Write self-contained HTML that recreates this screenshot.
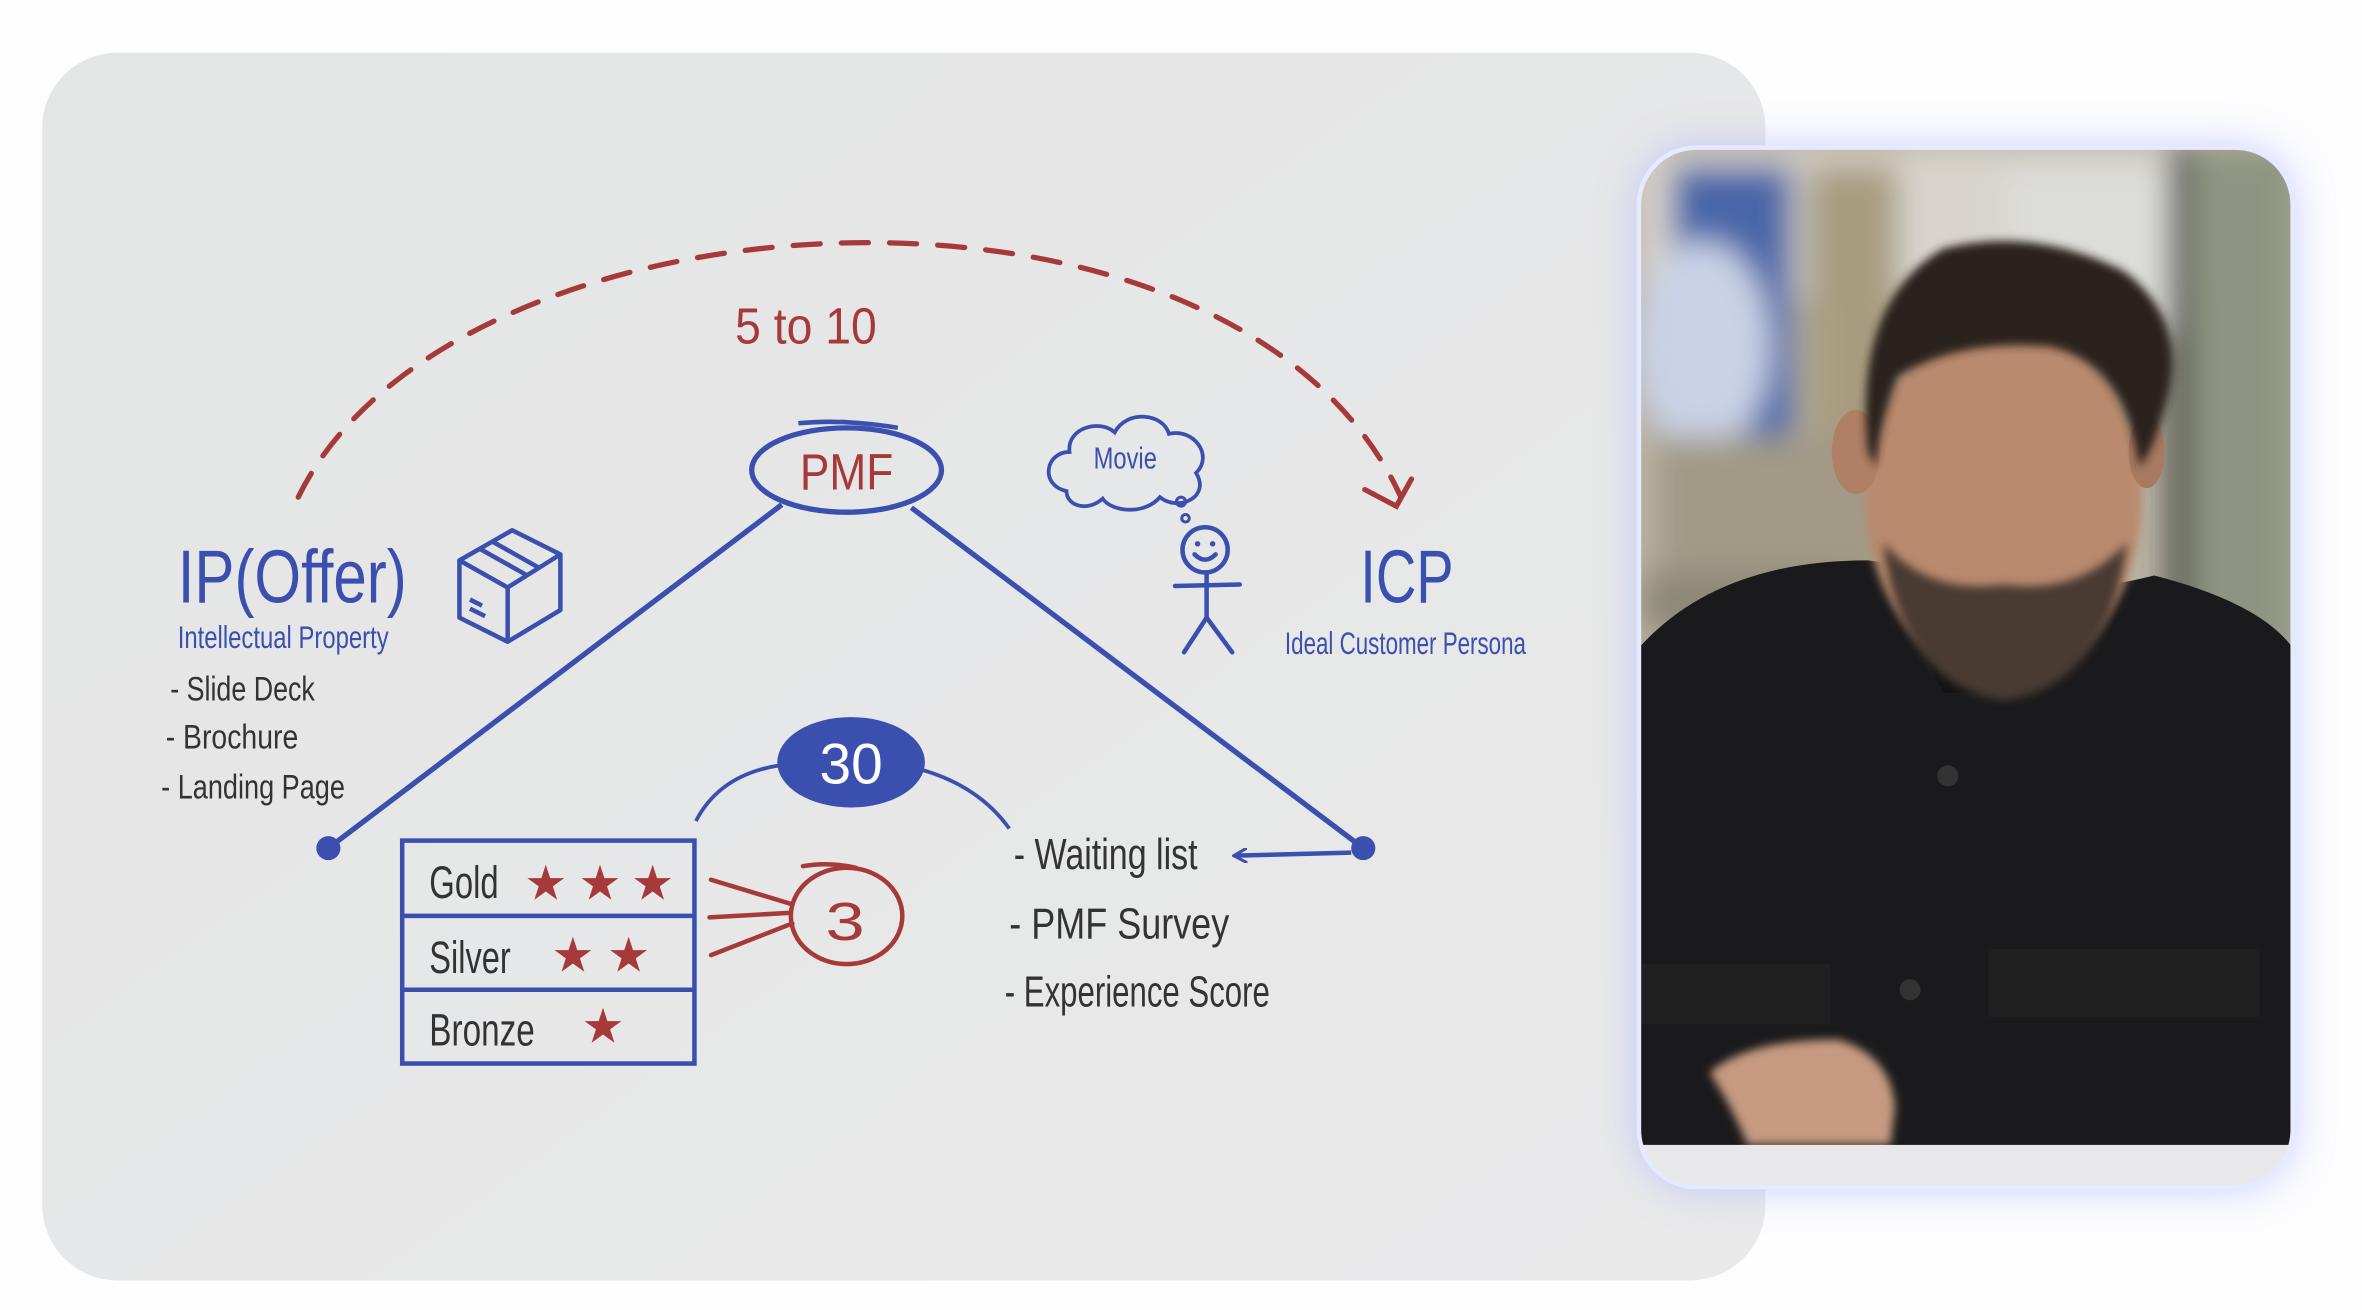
<!DOCTYPE html>
<html><head><meta charset="utf-8">
<style>
html,body{margin:0;padding:0;background:#fff;}
svg{display:block;}
text{font-family:"Liberation Sans Narrow","Liberation Sans",sans-serif;}
</style></head>
<body>
<svg width="2362" height="1310" viewBox="0 0 1568 869.6" preserveAspectRatio="none" xmlns="http://www.w3.org/2000/svg">
<defs>
  <linearGradient id="bd" x1="0" y1="0" x2="1" y2="1">
    <stop offset="0" stop-color="#e4e5e5"/><stop offset="1" stop-color="#e9e9ea"/>
  </linearGradient>
  <filter id="glow" x="-20%" y="-20%" width="140%" height="140%"><feGaussianBlur stdDeviation="14"/></filter>
  <filter id="bl" x="-20%" y="-20%" width="140%" height="140%"><feGaussianBlur stdDeviation="10"/></filter>
  <filter id="bl2"><feGaussianBlur stdDeviation="3"/></filter>
  <clipPath id="ph"><rect x="1088" y="98" width="434" height="690" rx="38"/></clipPath>
  <marker id="ar" markerWidth="10" markerHeight="10" refX="8" refY="5" orient="auto" markerUnits="userSpaceOnUse">
    <path d="M0,0 L9,5 L0,10" fill="none" stroke="#3a4fae" stroke-width="2"/>
  </marker>
</defs>
<rect width="1568" height="869.6" fill="#fdfdfe"/>
<!-- whiteboard -->
<rect x="28" y="35" width="1144" height="815" rx="50" fill="url(#bd)"/>

<!-- dashed arc -->
<path d="M198,330 C300,120 820,90 930,330" fill="none" stroke="#a63a3a" stroke-width="3.5" stroke-dasharray="18,14" stroke-linecap="round"/>
<path d="M906,325 L927,336 L937,318" fill="none" stroke="#a63a3a" stroke-width="3.5" stroke-linecap="round"/>
<text x="488" y="228" font-size="34" fill="#a63a3a" textLength="94" lengthAdjust="spacingAndGlyphs">5 to 10</text>

<!-- PMF -->
<ellipse cx="562" cy="312" rx="63" ry="28" fill="none" stroke="#3a4fae" stroke-width="3.5"/>
<path d="M530,281 Q560,278 596,284" fill="none" stroke="#3a4fae" stroke-width="3"/>
<text x="531" y="325" font-size="34" fill="#a63a3a" textLength="62" lengthAdjust="spacingAndGlyphs">PMF</text>
<line x1="519" y1="335" x2="218" y2="563" stroke="#3a4fae" stroke-width="3.5"/>
<line x1="605" y1="337" x2="905" y2="563" stroke="#3a4fae" stroke-width="3.5"/>
<circle cx="218" cy="563" r="8" fill="#3a4fae"/>
<circle cx="905" cy="563" r="8" fill="#3a4fae"/>
<line x1="897" y1="566" x2="820" y2="568" stroke="#3a4fae" stroke-width="3" marker-end="url(#ar)"/>

<!-- IP -->
<text x="118" y="400" font-size="50" fill="#3a4fae" textLength="152" lengthAdjust="spacingAndGlyphs">IP(Offer)</text>
<text x="118" y="430" font-size="21" fill="#3a4fae" textLength="140" lengthAdjust="spacingAndGlyphs">Intellectual Property</text>
<text x="113" y="465" font-size="23" fill="#333" textLength="96" lengthAdjust="spacingAndGlyphs">- Slide Deck</text>
<text x="110" y="497" font-size="23" fill="#333" textLength="88" lengthAdjust="spacingAndGlyphs">- Brochure</text>
<text x="107" y="530" font-size="23" fill="#333" textLength="122" lengthAdjust="spacingAndGlyphs">- Landing Page</text>
<!-- box icon -->
<g fill="none" stroke="#3a4fae" stroke-width="3" stroke-linejoin="round">
  <path d="M305,372 L340,352 L372,368 L337,390 Z"/>
  <path d="M305,372 L305,410 L337,426 L337,390"/>
  <path d="M372,368 L372,405 L337,426"/>
  <path d="M318,364 L350,382 M326,359 L358,377"/>
  <path d="M312,398 L320,402 M312,404 L322,409"/>
</g>

<!-- cloud & figure -->
<path d="M708,326 C690,322 694,300 710,300 C708,284 730,278 740,287 C748,272 772,274 776,288 C792,284 806,302 794,314 C804,330 782,340 770,330 C760,342 738,340 732,331 C722,340 708,336 708,326 Z" fill="none" stroke="#3a4fae" stroke-width="2.5"/>
<text x="726" y="311" font-size="20" fill="#3a4fae" textLength="42" lengthAdjust="spacingAndGlyphs">Movie</text>
<circle cx="784" cy="333" r="3" fill="none" stroke="#3a4fae" stroke-width="2"/>
<circle cx="787" cy="344" r="2.5" fill="none" stroke="#3a4fae" stroke-width="2"/>
<g fill="none" stroke="#3a4fae" stroke-width="3" stroke-linecap="round">
  <circle cx="800" cy="365" r="15"/>
  <path d="M793,368 Q800,375 807,368"/>
  <line x1="801" y1="380" x2="801" y2="410"/>
  <line x1="780" y1="389" x2="823" y2="388"/>
  <path d="M786,433 L801,410 L818,433"/>
</g>
<circle cx="795" cy="361" r="1.8" fill="#3a4fae"/><circle cx="805" cy="361" r="1.8" fill="#3a4fae"/>
<text x="903" y="400" font-size="50" fill="#3a4fae" textLength="62" lengthAdjust="spacingAndGlyphs">ICP</text>
<text x="853" y="434" font-size="21" fill="#3a4fae" textLength="160" lengthAdjust="spacingAndGlyphs">Ideal Customer Persona</text>

<!-- 30 -->
<path d="M462,545 Q478,514 518,508" fill="none" stroke="#3a4fae" stroke-width="2.5"/>
<path d="M612,511 Q650,522 670,550" fill="none" stroke="#3a4fae" stroke-width="2.5"/>
<ellipse cx="565" cy="506" rx="49" ry="30" fill="#3a4fae"/>
<text x="544" y="520" font-size="38" fill="#fff" textLength="42" lengthAdjust="spacingAndGlyphs">30</text>

<!-- table -->
<g fill="none" stroke="#3a4fae" stroke-width="3">
  <rect x="267" y="558" width="194" height="148"/>
  <line x1="267" y1="608" x2="461" y2="608"/>
  <line x1="267" y1="657" x2="461" y2="657"/>
</g>
<text x="285" y="596" font-size="30" fill="#333" textLength="46" lengthAdjust="spacingAndGlyphs">Gold</text>
<text x="285" y="646" font-size="30" fill="#333" textLength="54" lengthAdjust="spacingAndGlyphs">Silver</text>
<text x="285" y="694" font-size="30" fill="#333" textLength="70" lengthAdjust="spacingAndGlyphs">Bronze</text>
<g fill="#a63a3a" font-size="32">
  <text x="348" y="597">★</text><text x="384" y="597">★</text><text x="419" y="597">★</text>
  <text x="366" y="645">★</text><text x="403" y="645">★</text>
  <text x="386" y="692">★</text>
</g>
<!-- 3 -->
<g fill="none" stroke="#a63a3a" stroke-width="3" stroke-linecap="round">
  <line x1="472" y1="584" x2="525" y2="600"/>
  <line x1="471" y1="609" x2="524" y2="606"/>
  <line x1="472" y1="634" x2="526" y2="613"/>
  <ellipse cx="562" cy="608" rx="37" ry="32"/>
  <path d="M533,575 Q550,572 568,576"/>
</g>
<text x="548" y="624" font-size="36" fill="#a63a3a" textLength="26" lengthAdjust="spacingAndGlyphs">3</text>

<!-- right list -->
<text x="673" y="577" font-size="29" fill="#333" textLength="122" lengthAdjust="spacingAndGlyphs">- Waiting list</text>
<text x="670" y="623" font-size="29" fill="#333" textLength="146" lengthAdjust="spacingAndGlyphs">- PMF Survey</text>
<text x="667" y="668" font-size="29" fill="#333" textLength="176" lengthAdjust="spacingAndGlyphs">- Experience Score</text>

<!-- video panel -->
<rect x="1088" y="98" width="434" height="690" rx="38" fill="#aab6ff" opacity="0.7" filter="url(#glow)"/>
<g clip-path="url(#ph)">
  <rect x="1088" y="98" width="434" height="690" fill="#b9b3a4"/>
  <g filter="url(#bl)">
    <rect x="1088" y="98" width="434" height="100" fill="#d8d4cc"/>
    <rect x="1110" y="110" width="80" height="180" fill="#4a66a8"/>
    <ellipse cx="1130" cy="230" rx="45" ry="70" fill="#c9d2e6"/>
    <rect x="1200" y="110" width="60" height="200" fill="#a89c80"/>
    <rect x="1330" y="110" width="110" height="110" fill="#dcdcd8"/>
    <rect x="1455" y="98" width="70" height="340" fill="#8e9481"/>
    <rect x="1440" y="98" width="14" height="340" fill="#3a3a3a"/>
    <rect x="1100" y="290" width="230" height="90" fill="#a29a86"/>
    <rect x="1090" y="380" width="150" height="40" fill="#8d8878"/>
  </g>
  <!-- body -->
  <path d="M1088,430 Q1140,372 1240,372 L1300,380 Q1360,400 1430,382 Q1500,400 1522,430 L1522,788 L1088,788 Z" fill="#1a1a1c"/>
  <path d="M1260,400 L1380,400 L1340,460 L1290,460 Z" fill="#141414"/>
  <!-- neck & face -->
  <ellipse cx="1330" cy="330" rx="92" ry="120" fill="#b98a6e" filter="url(#bl2)"/>
  <ellipse cx="1232" cy="300" rx="16" ry="28" fill="#b08066"/>
  <ellipse cx="1425" cy="300" rx="12" ry="24" fill="#a87a62"/>
  <path d="M1250,360 Q1262,455 1330,465 Q1400,455 1412,360 Q1380,395 1330,388 Q1280,395 1250,360 Z" fill="#4a3a30" filter="url(#bl2)"/>
  <!-- hair -->
  <path d="M1240,300 Q1230,200 1290,165 Q1350,150 1410,180 Q1450,210 1440,260 Q1430,300 1420,310 Q1410,240 1360,230 Q1300,225 1260,250 Q1248,280 1245,310 Z" fill="#2a221e" filter="url(#bl2)"/>
  <!-- shirt details -->
  <circle cx="1293" cy="515" r="7" fill="#333"/>
  <circle cx="1268" cy="657" r="7" fill="#333"/>
  <path d="M1088,640 L1215,640 L1215,680 L1088,680 Z M1320,630 L1500,630 L1500,675 L1320,675 Z" fill="#222" opacity="0.8"/>
  <!-- hand -->
  <path d="M1135,712 Q1160,690 1220,690 Q1255,700 1258,735 L1255,760 L1160,760 Q1150,735 1135,712 Z" fill="#c59a80" filter="url(#bl2)"/>
  <rect x="1088" y="760" width="434" height="30" fill="#e8e8ea"/>
</g>
<rect x="1088" y="98" width="434" height="690" rx="38" fill="none" stroke="#e6eaff" stroke-width="3"/>
</svg>
</body></html>
